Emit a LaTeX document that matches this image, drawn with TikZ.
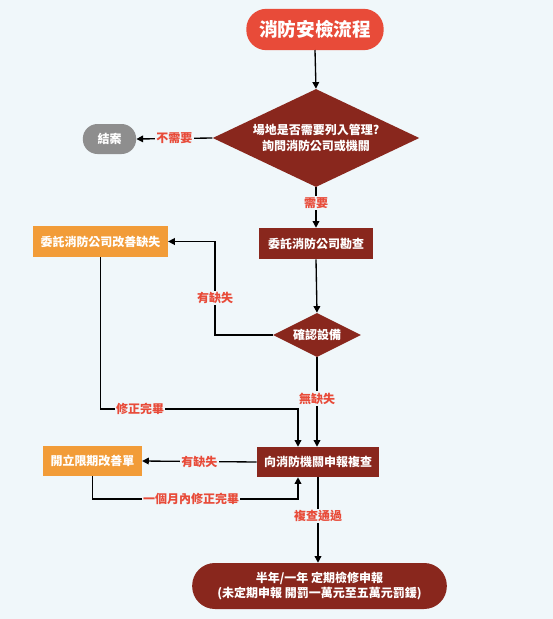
\documentclass[tikz,border=0pt]{standalone}
\usepackage{fontspec}
\setmainfont{Noto Sans CJK TC}
\usepackage{xcolor}
\usepackage{tikz}
\usetikzlibrary{arrows.meta,shapes.geometric}
\definecolor{bgc}{HTML}{F0F7FA}
\definecolor{firered}{HTML}{E84B39}
\definecolor{darkred}{HTML}{89271D}
\definecolor{orng}{HTML}{F29C38}
\definecolor{greyc}{HTML}{8E8E8E}

\begin{document}
\begin{tikzpicture}[
      x=0.75pt,y=-0.75pt,>={Triangle[length=5pt,width=5pt]},
      term/.style={rounded corners=15pt,fill=firered,text=white,inner sep=0pt,font=\fontsize{14}{16}\selectfont\bfseries},
      decide/.style={diamond,fill=darkred,text=white,inner sep=0pt,align=center,font=\fontsize{9}{12.5}\selectfont\bfseries},
      proc/.style={fill=darkred,text=white,inner sep=0pt,align=center,font=\fontsize{9}{11.25}\selectfont\bfseries},
      fixs/.style={fill=orng,text=white,inner sep=0pt,font=\fontsize{9}{11}\selectfont\bfseries},
      lbl/.style={fill=bgc,text=firered,inner sep=1pt,font=\fontsize{9}{11}\selectfont\bfseries},
      flow/.style={draw=black,line width=1pt,->}]
    \fill[bgc] (0,0) rectangle (553,619);
    \node[term,minimum width=103pt,minimum height=31pt] (start) at (315,29.5) {消防安檢流程};
    \node[decide,aspect=2.1,minimum width=155pt,minimum height=73.5pt] (q1) at (316,138) {場地是否需要列入管理?\\詢問消防公司或機關};
    \node[term,fill=greyc,minimum width=40pt,minimum height=22.5pt,rounded corners=11pt,font=\fontsize{9}{11}\selectfont\bfseries] (done) at (109.5,139) {結案};
    \node[proc,minimum width=85.5pt,minimum height=23.25pt] (survey) at (316,243.5) {委託消防公司勘查};
    \node[fixs,minimum width=101pt,minimum height=23.25pt] (fixbox) at (100.5,241.5) {委託消防公司改善缺失};
    \node[decide,aspect=2,minimum width=66pt,minimum height=33pt] (check) at (317,335) {確認設備};
    \node[proc,minimum width=91.5pt,minimum height=22.5pt] (report) at (318,462) {向消防機關申報複查};
    \node[fixs,minimum width=74pt,minimum height=22.5pt] (order) at (92.5,461) {開立限期改善單};
    \node[proc,rounded corners=17pt,minimum width=191pt,minimum height=34.5pt] (final) at (319.5,586) {半年/一年 定期檢修申報\\(未定期申報 開罰一萬元至五萬元罰鍰)};
    \coordinate (bend1) at (215,335);
    \coordinate (fixturn) at (298,409);
    \coordinate (monthturn) at (298,499);
    \draw[flow] (start.south |- 0,50) -- (q1.north);
    \draw[flow] (q1.west) -- node[lbl] {不需要} (done.east);
    \draw[flow] (q1.south) -- node[lbl,pos=0.38] {需要} (survey.north);
    \draw[flow] (survey.south) -- (check.north);
    \draw[flow] (check.west) -- (bend1) |- node[lbl,pos=0.2] {有缺失} (fixbox.east);
    \draw[flow] (check.south) -- node[lbl,pos=0.46] {無缺失} (check.south |- report.north);
    \draw[flow] (fixbox.south) |- node[lbl,pos=0.6] {修正完畢} (fixturn) -- (fixturn |- report.north);
    \draw[flow] (report.west) -- node[lbl] {有缺失} (order.east);
    \draw[flow] (order.south) |- node[lbl,pos=0.74] {一個月內修正完畢} (monthturn) -- (monthturn |- report.south);
    \draw[flow] (report.south) -- node[lbl,pos=0.45] {複查通過} (report.south |- final.north);
  \end{tikzpicture}
\end{document}
